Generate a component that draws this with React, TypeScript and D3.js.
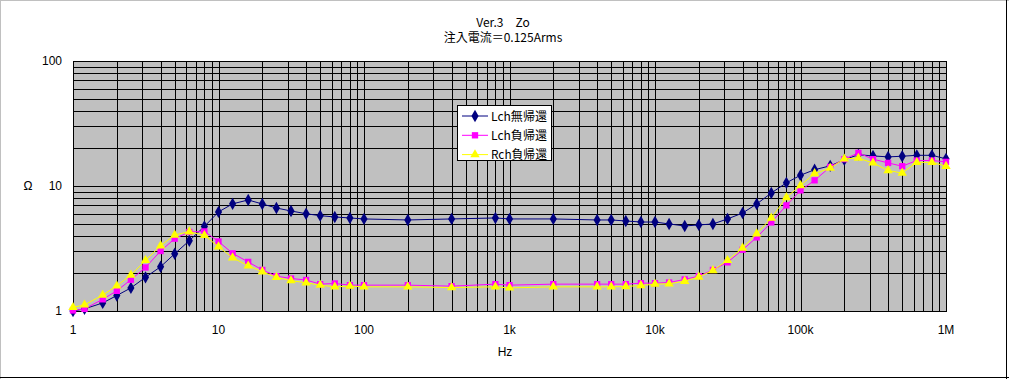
import React from "react";
import * as d3 from "d3";

const freqs = [1, 1.2, 1.6, 2, 2.5, 3.15, 4, 5, 6.3, 8, 10, 12.5, 16, 20, 25, 31.5, 40, 50, 63, 80, 100, 200, 400, 800, 1000, 2000, 4000, 5000, 6300, 8000, 10000, 12500, 16000, 20000, 25000, 31500, 40000, 50000, 63000, 80000, 100000, 125000, 160000, 200000, 250000, 315000, 400000, 500000, 630000, 800000, 1000000];

const lchNoFb = [1.0, 1.04, 1.16, 1.33, 1.53, 1.86, 2.26, 2.87, 3.65, 4.75, 6.2, 7.2, 7.73, 7.18, 6.67, 6.31, 6.0, 5.79, 5.65, 5.55, 5.45, 5.35, 5.45, 5.55, 5.45, 5.45, 5.35, 5.35, 5.25, 5.15, 5.15, 4.97, 4.79, 4.88, 4.97, 5.45, 6.08, 7.18, 8.79, 10.6, 12.2, 13.5, 14.5, 16.2, 17.8, 17.4, 17.1, 17.3, 17.6, 17.6, 16.5];

const lchFb = [1.01, 1.04, 1.24, 1.45, 1.78, 2.23, 3.02, 3.79, 4.29, 4.33, 3.6, 2.89, 2.47, 2.13, 1.9, 1.82, 1.77, 1.64, 1.66, 1.61, 1.61, 1.61, 1.58, 1.64, 1.61, 1.64, 1.64, 1.64, 1.64, 1.67, 1.67, 1.69, 1.79, 1.9, 2.13, 2.45, 3.09, 3.88, 5.11, 7.0, 9.22, 11.1, 14.2, 16.4, 18.4, 16.4, 15.3, 14.4, 16.0, 16.0, 15.6];

const rchFb = [1.07, 1.12, 1.34, 1.59, 1.94, 2.54, 3.33, 4.06, 4.31, 4.03, 3.27, 2.67, 2.3, 2.06, 1.86, 1.75, 1.68, 1.61, 1.56, 1.58, 1.56, 1.56, 1.54, 1.56, 1.53, 1.56, 1.56, 1.56, 1.57, 1.6, 1.64, 1.65, 1.73, 1.87, 2.11, 2.54, 3.19, 4.15, 5.55, 8.1, 10.1, 12.6, 13.9, 16.5, 16.7, 15.3, 13.3, 12.7, 15.45, 15.45, 14.4];

const xTicks = [1, 10, 100, 1000, 10000, 100000, 1000000];
const xTickLabels = ["1", "10", "100", "1k", "10k", "100k", "1M"];
const yTicks = [1, 10, 100];
const yTickLabels = ["1", "10", "100"];
const seriesNames = ["Lch無帰還", "Lch負帰還", "Rch負帰還"];
const titleLines = ["Ver.3\u3000Zo", "注入電流＝0.125Arms"];

const W = 1009, H = 379;
const L = 73, R = 946, T = 61, B = 311;
const FONT = "'Liberation Sans', Arial, sans-serif";
const JFONT = "'Noto Sans CJK JP', sans-serif";

export default function App() {
  const x = d3.scaleLog().domain([1, 1e6]).range([L, R]);
  const y = d3.scaleLog().domain([1, 100]).range([B, T]);

  const vGrid: number[] = [];
  for (let dec = 1; dec < 1e6; dec *= 10) for (let m = 1; m < 10; m++) vGrid.push(dec * m);
  vGrid.push(1e6);
  const hGrid: number[] = [];
  for (let dec = 1; dec < 100; dec *= 10) for (let m = 1; m < 10; m++) hGrid.push(dec * m);
  hGrid.push(100);

  const line = (vals: number[]) =>
    d3.line<number>().x((_, i) => x(freqs[i])).y((v) => y(v))(vals) || "";

  const diamond = d3.symbol().type(d3.symbolDiamond).size(44)();
  const square = d3.symbol().type(d3.symbolSquare).size(40)();
  const triangle = d3.symbol().type(d3.symbolTriangle).size(38)();

  const series = [
    { vals: lchNoFb, color: "#000080", mk: diamond, mkColor: "#000080" },
    { vals: lchFb, color: "#ff00ff", mk: square, mkColor: "#ff00ff" },
    { vals: rchFb, color: "#ffff00", mk: triangle, mkColor: "#ffff00" },
  ];

  return (
    <div style={{ position: "absolute", left: 0, top: 0 }}>
      <svg width={W} height={H} style={{ display: "block" }}>
        <rect x={0} y={0} width={W} height={H} fill="#ffffff" />
        <line x1={0.5} y1={0} x2={0.5} y2={H} stroke="#c0c0c0" />
        <line x1={0} y1={0.5} x2={W} y2={0.5} stroke="#c0c0c0" />
        <line x1={W - 2.5} y1={0} x2={W - 2.5} y2={H} stroke="#000" />
        <line x1={0} y1={H - 1.5} x2={W} y2={H - 1.5} stroke="#000" />

        {titleLines.map((t, i) => (
          <text key={i} x={503} y={27 + i * 15} textAnchor="middle" fontSize={12} fontFamily={JFONT} fill="#000">
            {t}
          </text>
        ))}

        <rect x={L} y={T} width={R - L} height={B - T} fill="#c0c0c0" />
        {vGrid.map((f, i) => (
          <line key={"v" + i} x1={Math.round(x(f)) + 0.5} x2={Math.round(x(f)) + 0.5} y1={T} y2={B} stroke="#000" strokeWidth={1} />
        ))}
        {hGrid.map((v, i) => (
          <line key={"h" + i} x1={L} x2={R} y1={Math.round(y(v)) + 0.5} y2={Math.round(y(v)) + 0.5} stroke="#000" strokeWidth={1} />
        ))}
        <rect x={L + 0.5} y={T + 0.5} width={R - L} height={B - T} fill="none" stroke="#000" />

        {series.map((s, si) => (
          <g key={si}>
            <path d={line(s.vals)} fill="none" stroke={s.color} strokeWidth={1} />
            {s.vals.map((v, i) => (
              <path key={i} d={s.mk || ""} transform={`translate(${x(freqs[i])},${y(v)})`} fill={s.mkColor} />
            ))}
          </g>
        ))}

        {yTicks.map((v, i) => (
          <text key={"yt" + i} x={62} y={y(v) + 4} textAnchor="end" fontSize={12} fontFamily={FONT} fill="#000">
            {yTickLabels[i]}
          </text>
        ))}
        <text x={28} y={190} textAnchor="middle" fontSize={12} fontFamily={FONT} fill="#000">Ω</text>

        {xTicks.map((f, i) => (
          <text key={"xt" + i} x={x(f)} y={334} textAnchor="middle" fontSize={12} fontFamily={FONT} fill="#000">
            {xTickLabels[i]}
          </text>
        ))}
        <text x={505} y={356} textAnchor="middle" fontSize={12} fontFamily={FONT} fill="#000">Hz</text>

        <g>
          <rect x={457.5} y={105.5} width={94} height={55} fill="#fff" stroke="#000" />
          {seriesNames.map((n, i) => {
            const yy = 116 + i * 19.3;
            const s = series[i];
            return (
              <g key={n}>
                <line x1={462} x2={488} y1={yy} y2={yy} stroke={s.color} />
                <path d={s.mk || ""} transform={`translate(475,${yy})`} fill={s.mkColor} />
                <text x={491} y={yy + 4.5} fontSize={12} fontFamily={JFONT} fill="#000" textLength={56} lengthAdjust="spacingAndGlyphs">{n}</text>
              </g>
            );
          })}
        </g>
      </svg>
    </div>
  );
}
